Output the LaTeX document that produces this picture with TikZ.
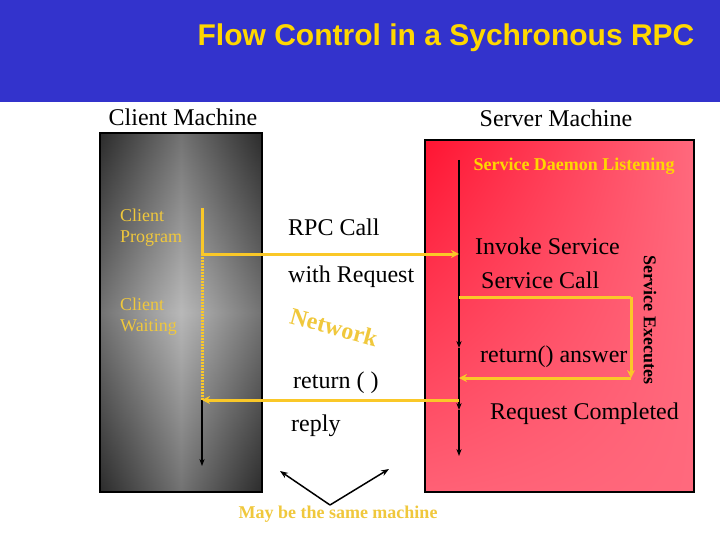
\documentclass[tikz,border=0pt]{standalone}
\usepackage{fontspec}
\setmainfont{Liberation Serif}
\newfontfamily\ttl{Liberation Sans}
\usetikzlibrary{arrows.meta,shadings}
\definecolor{tblue}{RGB}{51,51,204}
\definecolor{tyel}{RGB}{255,215,0}
\definecolor{lyel}{RGB}{240,200,60}
\definecolor{yl}{RGB}{250,200,40}
\definecolor{rd1}{RGB}{255,20,50}
\definecolor{rd2}{RGB}{255,105,125}
\begin{document}
\begin{tikzpicture}[x=1pt,y=-1pt,
  yarr/.style={draw=yl,line width=3pt,-{Stealth[length=8pt,width=8pt]}},
  blk/.style={draw=black,line width=1.5pt},
  lbl/.style={font=\fontsize{24}{27}\selectfont,anchor=west,inner sep=0pt},
  ylbl/.style={font=\fontsize{18}{21}\selectfont,text=lyel,anchor=west,inner sep=0pt,align=left}]
\useasboundingbox (0,0) rectangle (720,540);
\fill[white] (0,0) rectangle (720,540);
\fill[tblue] (0,0) rectangle (720,102);
\node[font=\ttl\bfseries\fontsize{30}{33}\selectfont,text=tyel] (title) at (446,38) {Flow Control in a Sychronous RPC};
\node[font=\fontsize{24}{27}\selectfont] (cm) at (183,117) {Client Machine};
\node[font=\fontsize{24}{27}\selectfont] (sm) at (556,118) {Server Machine};
% panels
\shade[left color=black!80,right color=black!80,middle color=black!25] (100,133) rectangle (262,492);
\shade[top color=black!85,bottom color=black!85,middle color=black!30,opacity=0.5] (100,133) rectangle (262,492);
\draw[line width=1.5pt] (100,133) rectangle (262,492);
\shade[upper left=rd1,upper right=rd2,lower left=rd2!90!rd1,lower right=rd2] (425,140) rectangle (694,492);
\draw[line width=1.5pt] (425,140) rectangle (694,492);
\node[font=\bfseries\fontsize{18}{20}\selectfont,text=tyel] (sdl) at (574,166) {Service Daemon Listening};
\node[ylbl] (cp) at (120,228) {Client\\Program};
\node[ylbl] (cw) at (120,317) {Client\\Waiting};
% coordinates
\coordinate (c0) at (202,208);
\coordinate (c1) at (202,254);
\coordinate (c2) at (202,400);
\coordinate (c3) at (202,466);
\coordinate (s0) at (459,160);
\coordinate (s1) at (459,254);
\coordinate (s2) at (459,297);
\coordinate (s3) at (459,378);
\coordinate (s4) at (459,400);
\coordinate (s5) at (459,456);
\coordinate (e1) at (631,297);
\coordinate (e2) at (631,378);
\draw[yl,line width=3pt] (c0) -- (c1);
\draw[yl,line width=3pt,dash pattern=on 2pt off 1pt] (c1) -- (c2);
\draw[blk,-{Stealth[length=7pt]}] (c2) -- (c3);
\draw[blk,-{Stealth[length=7pt]}] (s0) -- (459,348);
\draw[blk,-{Stealth[length=7pt]}] (459,348) -- (459,410);
\draw[blk,-{Stealth[length=7pt]}] (459,410) -- (s5);
\draw[yarr] (c1) -- (s1);
\draw[yarr] (s4) -- (c2);
\draw[draw=yl,line width=3pt] (s2) -- (e1);
\draw[yarr] (e1) -- (e2);
\draw[yarr] (e2) -- (s3);
\node[lbl] (rpc) at (288,227) {RPC Call};
\node[lbl] (wr) at (288,277) {with Request};
\node[font=\bfseries\fontsize{24}{27}\selectfont,text=lyel,rotate=-15,inner sep=0pt] (net) at (334,327) {Network};
\node[lbl] (ret) at (293,383) {return ( )};
\node[lbl] (rep) at (291,426) {reply};
\node[lbl] (inv) at (475,246) {Invoke Service};
\node[lbl] (sc) at (481,280) {Service Call};
\node[lbl] (ra) at (480,357) {return() answer};
\node[lbl] (rc) at (490,414) {Request Completed};
\node[font=\bfseries\fontsize{18}{20}\selectfont,rotate=-90] (se) at (650,320) {Service Executes};
\coordinate (v) at (330,505);
\coordinate (va) at (280,471);
\coordinate (vb) at (389,469);
\draw[line width=1.5pt,-{Stealth[length=8pt]}] (v) -- (va);
\draw[line width=1.5pt,-{Stealth[length=8pt]}] (v) -- (vb);
\node[font=\bfseries\fontsize{18}{20}\selectfont,text=lyel] (may) at (338,514) {May be the same machine};
\end{tikzpicture}
\end{document}
